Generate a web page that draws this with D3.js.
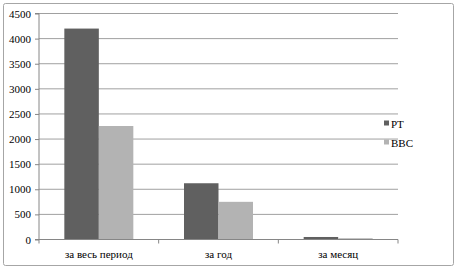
<!DOCTYPE html>
<html>
<head>
<meta charset="utf-8">
<script src="https://cdnjs.cloudflare.com/ajax/libs/d3/7.8.5/d3.min.js"></script>
<style>
  body { margin: 0; background: #fff; }
  svg text { font-family: "Times New Roman", "Liberation Serif", "DejaVu Serif", serif !important; font-size: 11px; fill: #000; }
</style>
</head>
<body>
<svg width="457" height="271"></svg>
<script>
var categories = ["за весь период", "за год", "за месяц"];
var seriesNames = ["PT", "BBC"];
var rtValues = [4200, 1120, 50];
var bbcValues = [2260, 750, 25];
var yTicks = [0, 500, 1000, 1500, 2000, 2500, 3000, 3500, 4000, 4500];
var colors = ["#606060", "#b3b3b3"];

var svg = d3.select("svg");

// outer frame
svg.append("rect")
    .attr("x", 3.5).attr("y", 3.5)
    .attr("width", 450).attr("height", 262)
    .attr("rx", 2)
    .attr("fill", "#fff")
    .attr("stroke", "#a6a6a6");

var plotL = 39, plotR = 398, plotT = 13.5, plotB = 239.5;

var x = d3.scaleBand().domain(categories).range([plotL, plotR]);
var y = d3.scaleLinear().domain([0, 4500]).range([plotB, plotT]);
var xs = d3.scaleBand().domain(seriesNames).range([0, 69]);

// gridlines
svg.append("g")
  .selectAll("line")
  .data(yTicks.filter(function(d) { return d > 0; }))
  .enter().append("line")
    .attr("x1", plotL).attr("x2", plotR)
    .attr("y1", function(d) { return y(d); })
    .attr("y2", function(d) { return y(d); })
    .attr("stroke", "#a0a0a0");

var data = categories.map(function(c, i) {
  return { cat: c, vals: [rtValues[i], bbcValues[i]] };
});

var groups = svg.append("g").selectAll("g")
  .data(data)
  .enter().append("g")
    .attr("transform", function(d) { return "translate(" + (x(d.cat) + (x.bandwidth() - 69) / 2) + ",0)"; });

groups.selectAll("rect")
  .data(function(d) { return d.vals.map(function(v, j) { return { name: seriesNames[j], v: v, j: j }; }); })
  .enter().append("rect")
    .attr("x", function(d) { return xs(d.name); })
    .attr("width", xs.bandwidth())
    .attr("y", function(d) { return y(d.v); })
    .attr("height", function(d) { return plotB - y(d.v); })
    .attr("fill", function(d) { return colors[d.j]; });

// y axis
var yAxis = svg.append("g")
    .attr("transform", "translate(" + plotL + ",0)")
    .call(d3.axisLeft(y).tickValues(yTicks).tickFormat(d3.format("d")).tickSize(4).tickPadding(4));
yAxis.attr("font-family", null).attr("font-size", null);
yAxis.select(".domain").attr("stroke", "#868686").attr("d", "M-4," + plotB + "H0V" + plotT + "H-4");
yAxis.selectAll(".tick line").attr("stroke", "#868686");

// x axis
var xAxis = svg.append("g")
    .attr("transform", "translate(0," + plotB + ")")
    .call(d3.axisBottom(x).tickSize(0).tickPadding(11));
xAxis.attr("font-family", null).attr("font-size", null);
xAxis.select(".domain").attr("stroke", "#868686").attr("d", "M" + plotL + ",0H" + plotR);
xAxis.selectAll(".boundary")
  .data(categories.map(function(c) { return x(c); }).concat([plotR]))
  .enter().append("line")
    .attr("x1", function(d) { return d; }).attr("x2", function(d) { return d; })
    .attr("y1", 0).attr("y2", 4)
    .attr("stroke", "#868686");

// legend
var legend = svg.append("g").selectAll("g")
  .data(seriesNames)
  .enter().append("g")
    .attr("transform", function(d, i) { return "translate(384," + (124 + i * 19) + ")"; });
legend.append("rect")
    .attr("x", 0).attr("y", -3.5)
    .attr("width", 5).attr("height", 5)
    .attr("fill", function(d, i) { return colors[i]; });
legend.append("text")
    .attr("x", 7).attr("y", 0)
    .attr("dy", "0.35em")
    .text(function(d) { return d; });
</script>
</body>
</html>
